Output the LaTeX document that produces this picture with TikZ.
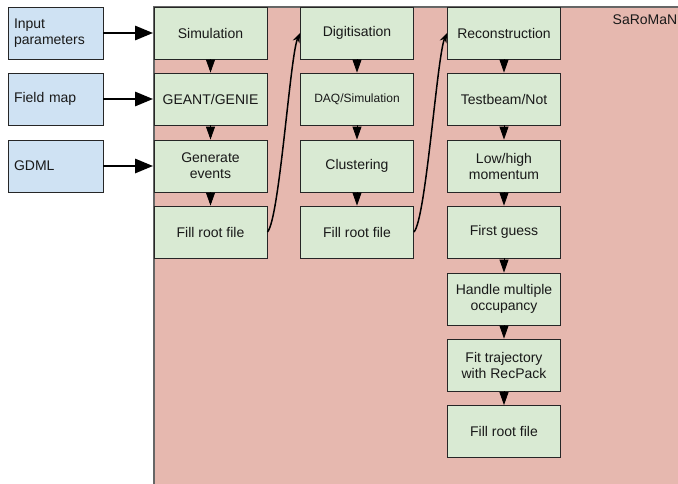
\documentclass[tikz,border=0pt]{standalone}
\usepackage{fontspec}
\setmainfont{Liberation Sans}
\usetikzlibrary{arrows.meta}
\definecolor{framepink}{HTML}{E6B8AF}
\definecolor{stepgreen}{HTML}{D9EAD3}
\definecolor{inputblue}{HTML}{CFE2F3}
\begin{document}
\begin{tikzpicture}[x=1pt, y=-1pt, >=Stealth,
  every node/.style={font=\fontsize{14}{16}\selectfont, text=black!90},
  stepbox/.style={draw=black!85, fill=stepgreen, line width=0.8pt, minimum width=113pt, minimum height=52pt, align=center, inner sep=2pt},
  inbox/.style={draw=black!85, fill=inputblue, line width=0.8pt, minimum width=95pt, minimum height=52pt, text width=83pt, align=left, inner sep=2pt},
  feed/.style={line width=2.8pt, -{Triangle[length=18pt,width=14pt]}, shorten >=0.5pt},
  flow/.style={line width=0.8pt, -{Triangle[length=13pt,width=9pt]}}]
\useasboundingbox (0,0) rectangle (678,483);
\fill[white] (0,0) rectangle (678,483);
\draw[fill=framepink, draw=black!60, line width=1.2pt] (154,7) rectangle (690,495);
\node at (645,20) {SaRoMaN};
% inputs
\node[inbox] (par) at (55.5,33) {Input\\parameters};
\node[inbox] (fmap) at (55.5,99) {Field map};
\node[inbox] (gdml) at (55.5,166) {GDML};
% simulation
\node[stepbox] (sim) at (210.5,33) {Simulation};
\node[stepbox] (geant) at (210.5,99) {GEANT/GENIE};
\node[stepbox] (gen) at (210.5,166) {Generate\\events};
\node[stepbox] (fillA) at (210.5,232) {Fill root file};
% digitisation
\node[stepbox] (digi) at (357,33) {Digitisation};
\node[stepbox, font=\fontsize{12}{14}\selectfont] (daq) at (357,99) {DAQ/Simulation};
\node[stepbox] (clus) at (357,166) {Clustering};
\node[stepbox] (fillB) at (357,232) {Fill root file};
% reconstruction
\node[stepbox] (reco) at (504,33) {Reconstruction};
\node[stepbox] (beam) at (504,99) {Testbeam/Not};
\node[stepbox] (mom) at (504,166) {Low/high\\momentum};
\node[stepbox] (guess) at (504,232) {First guess};
\node[stepbox] (occ) at (504,299) {Handle multiple\\occupancy};
\node[stepbox] (fit) at (504,365) {Fit trajectory\\with RecPack};
\node[stepbox] (fillC) at (504,431.5) {Fill root file};
\draw[feed] (par)--(sim);
\draw[feed] (fmap)--(geant);
\draw[feed] (gdml)--(gen);
\draw[flow] (sim)--(geant);
\draw[flow] (geant)--(gen);
\draw[flow] (gen)--(fillA);
\draw[flow] (digi)--(daq);
\draw[flow] (daq)--(clus);
\draw[flow] (clus)--(fillB);
\draw[flow] (reco)--(beam);
\draw[flow] (beam)--(mom);
\draw[flow] (mom)--(guess);
\draw[flow] (guess)--(occ);
\draw[flow] (occ)--(fit);
\draw[flow] (fit)--(fillC);
\draw[line width=1.5pt, ->] (fillA.east) .. controls +(12,-12) and +(-10,22) .. (digi.west);
\draw[line width=1.5pt, ->] (fillB.east) .. controls +(12,-12) and +(-10,22) .. (reco.west);
\end{tikzpicture}
\end{document}
